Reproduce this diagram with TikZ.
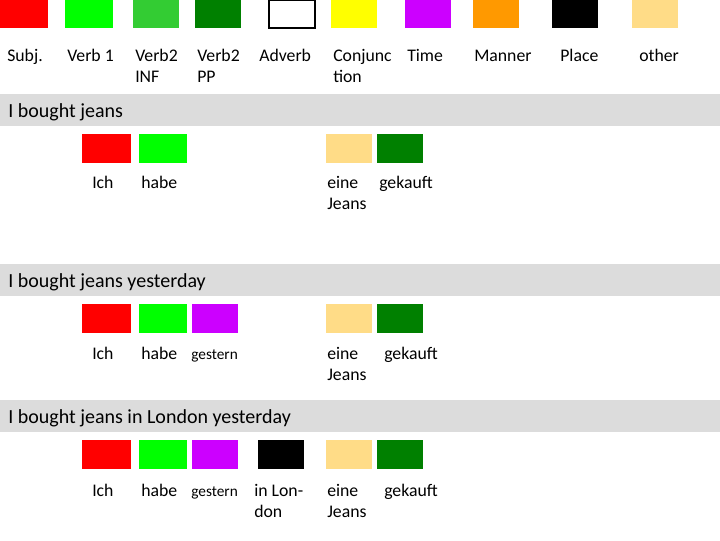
\documentclass[tikz,border=0pt]{standalone}
\usepackage{fontspec}
\setmainfont{Carlito}
\definecolor{cSubj}{HTML}{FF0000}
\definecolor{cVone}{HTML}{00FF00}
\definecolor{cInf}{HTML}{33CC33}
\definecolor{cPP}{HTML}{008000}
\definecolor{cConj}{HTML}{FFFF00}
\definecolor{cTime}{HTML}{CC00FF}
\definecolor{cManner}{HTML}{FF9900}
\definecolor{cPlace}{HTML}{000000}
\definecolor{cOther}{HTML}{FFDC87}
\definecolor{bandgray}{HTML}{DCDCDC}
\begin{document}
\begin{tikzpicture}[x=0.75pt,y=-0.75pt,
  lab/.style={anchor=base west,inner sep=0pt,font=\fontsize{13.3}{15.75}\selectfont,align=left},
  small/.style={lab,font=\fontsize{11.5}{14}\selectfont},
  ttl/.style={anchor=base west,inner sep=0pt,font=\fontsize{15}{18}\selectfont},
  band/.style={fill=bandgray}]
\useasboundingbox (0,0) rectangle (720,540);
% legend squares
\fill[cSubj] (0,0) rectangle (48,28);
\fill[cVone] (65,0) rectangle (113,28);
\fill[cInf] (133,0) rectangle (179,28);
\fill[cPP] (195,0) rectangle (241,28);
\draw[line width=1.5pt,fill=white] (269,0) rectangle (315,28);
\fill[cConj] (331,0) rectangle (377,28);
\fill[cTime] (405,0) rectangle (451,28);
\fill[cManner] (473,0) rectangle (519,28);
\fill[cPlace] (552,0) rectangle (598,28);
\fill[cOther] (632,0) rectangle (678,28);
% legend labels (multi-line nodes are placed by the baseline of their last line)
\node[lab] (tSubj) at (7,61) {Subj.};
\node[lab] (tVone) at (67,61) {Verb 1};
\node[lab] (tInf) at (135,82) {Verb2\\INF};
\node[lab] (tPP) at (197,82) {Verb2\\PP};
\node[lab] (tAdv) at (259,61) {Adverb};
\node[lab] (tConj) at (333,82) {Conjunc\\tion};
\node[lab] (tTime) at (407,61) {Time};
\node[lab] (tManner) at (474,61) {Manner};
\node[lab] (tPlace) at (560,61) {Place};
\node[lab] (tOther) at (639,61) {other};
% bands
\path[band] (0,94) rectangle (720,126);
\path[band] (0,264) rectangle (720,296);
\path[band] (0,400) rectangle (720,432);
\node[ttl] (h1) at (8,117) {I bought jeans};
\node[ttl] (h2) at (8,287) {I bought jeans yesterday};
\node[ttl] (h3) at (8,423) {I bought jeans in London yesterday};
% row 1
\fill[cSubj] (82,134) rectangle (131,163);
\fill[cVone] (139,134) rectangle (187,163);
\fill[cOther] (326,134) rectangle (372,163);
\fill[cPP] (377,134) rectangle (423,163);
\node[lab] (r1a) at (92,188) {Ich};
\node[lab] (r1b) at (141,188) {habe};
\node[lab] (r1c) at (327,209) {eine\\Jeans};
\node[lab] (r1d) at (379,188) {gekauft};
% row 2
\fill[cSubj] (82,304) rectangle (131,333);
\fill[cVone] (139,304) rectangle (187,333);
\fill[cTime] (192,304) rectangle (238,333);
\fill[cOther] (326,304) rectangle (372,333);
\fill[cPP] (377,304) rectangle (423,333);
\node[lab] (r2a) at (92,359) {Ich};
\node[lab] (r2b) at (141,359) {habe};
\node[small] (r2c) at (191,359) {gestern};
\node[lab] (r2d) at (327,380) {eine\\Jeans};
\node[lab] (r2e) at (384,359) {gekauft};
% row 3
\fill[cSubj] (82,440) rectangle (131,469);
\fill[cVone] (139,440) rectangle (187,469);
\fill[cTime] (192,440) rectangle (238,469);
\fill[cPlace] (258,440) rectangle (304,469);
\fill[cOther] (326,440) rectangle (372,469);
\fill[cPP] (377,440) rectangle (423,469);
\node[lab] (r3a) at (92,496) {Ich};
\node[lab] (r3b) at (141,496) {habe};
\node[small] (r3c) at (191,496) {gestern};
\node[lab] (r3d) at (254,517) {in Lon-\\don};
\node[lab] (r3e) at (327,517) {eine\\Jeans};
\node[lab] (r3f) at (384,496) {gekauft};
\end{tikzpicture}
\end{document}
